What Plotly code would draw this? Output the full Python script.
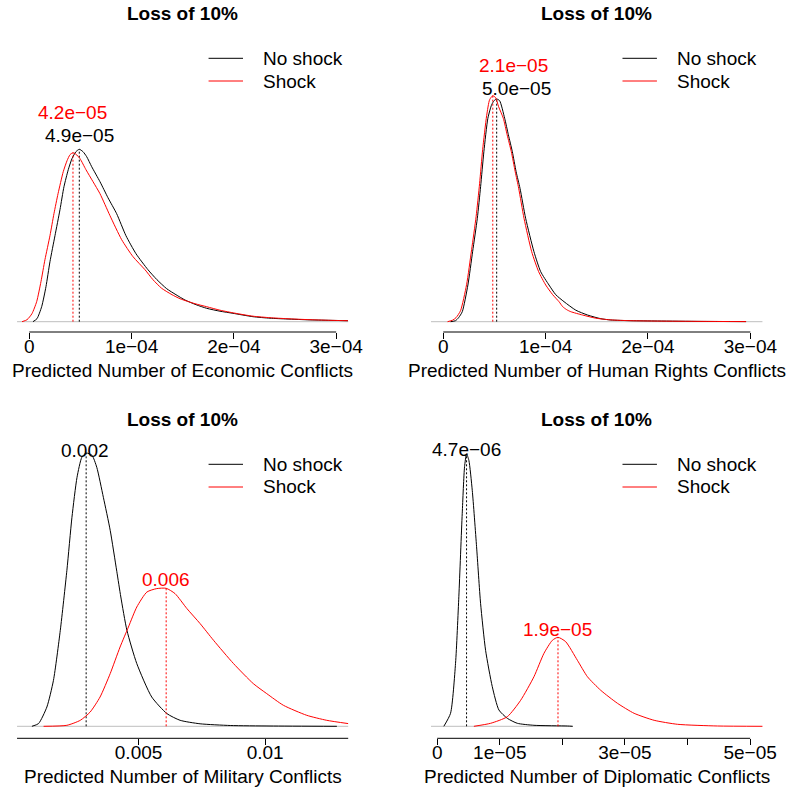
import plotly.graph_objects as go

# ---------------- data ----------------
# Economic conflicts
econ_x_noshock = [3.6e-6, 7.5e-6, 1.21e-5, 1.63e-5, 2.02e-5, 2.51e-5, 3.00e-5, 3.39e-5, 3.81e-5, 4.17e-5,
                  4.56e-5, 4.89e-5, 5.25e-5, 5.61e-5, 6.10e-5, 6.91e-5, 7.69e-5, 8.54e-5, 9.45e-5, 1.043e-4,
                  1.160e-4, 1.248e-4, 1.343e-4, 1.434e-4, 1.522e-4, 1.630e-4, 1.734e-4, 1.864e-4, 1.991e-4,
                  2.187e-4, 2.353e-4, 2.519e-4, 2.744e-4, 2.969e-4, 3.115e-4]
econ_d_noshock = [0, 3, 15, 35, 60, 86, 112, 135, 152, 163,
                  170, 172.4, 170, 165, 155, 140, 124, 108, 86, 68,
                  52, 42, 33, 27, 21.7, 17, 13.4, 10.5, 8.4,
                  5, 3.5, 2.7, 1.8, 1.3, 1]
econ_x_shock = [-7.1e-6, -2.2e-6, 2.6e-6, 7.2e-6, 1.14e-5, 1.53e-5, 2.02e-5, 2.41e-5, 2.81e-5, 3.32e-5,
                3.69e-5, 3.98e-5, 4.27e-5, 4.56e-5, 4.96e-5, 5.54e-5, 6.23e-5, 6.91e-5, 7.89e-5, 9.03e-5,
                1.014e-4, 1.131e-4, 1.209e-4, 1.294e-4, 1.395e-4, 1.473e-4, 1.620e-4, 1.734e-4, 1.864e-4,
                2.011e-4, 2.187e-4, 2.353e-4, 2.519e-4, 2.744e-4, 2.969e-4, 3.115e-4]
econ_d_shock = [0, 2, 8, 20, 40, 62, 86, 108, 128, 150,
                161, 167, 169, 167.5, 163, 152, 140, 128, 106, 82,
                65, 52, 42, 33.4, 27, 23, 18, 15, 11.5,
                8.5, 5.5, 4, 3, 2, 1.3, 1]
econ_mode_labels = ["4.9e\u221205", "4.2e\u221205"]
econ_ticks = [0, 1e-4, 2e-4, 3e-4]
econ_ticklabels = ["0", "1e\u221204", "2e\u221204", "3e\u221204"]

# Human rights conflicts
hr_x_noshock = [7.1e-6, 1.20e-5, 1.50e-5, 1.86e-5, 2.41e-5, 2.87e-5, 3.33e-5, 3.65e-5, 3.97e-5, 4.36e-5,
                4.73e-5, 4.97e-5, 5.22e-5, 5.51e-5, 6.00e-5, 6.36e-5, 6.75e-5, 7.12e-5, 7.50e-5, 8.05e-5,
                8.86e-5, 9.52e-5, 1.033e-4, 1.099e-4, 1.180e-4, 1.295e-4, 1.409e-4, 1.539e-4, 1.637e-4,
                1.833e-4, 2.094e-4, 2.518e-4, 2.958e-4]
hr_d_noshock = [0, 1, 4, 10, 36.7, 70, 103.4, 135, 170, 203.4,
                217, 221, 222.7, 221, 203.4, 187, 170, 150, 133.4, 103.4,
                70, 50, 36.7, 27, 20, 11.5, 6.7, 3, 1.7,
                1, 0.7, 0.3, 0.1]
hr_x_shock = [4.2e-6, 9.1e-6, 1.25e-5, 1.69e-5, 2.28e-5, 2.77e-5, 3.21e-5, 3.55e-5, 3.85e-5, 4.24e-5,
              4.53e-5, 4.84e-5, 5.12e-5, 5.41e-5, 5.87e-5, 6.24e-5, 6.65e-5, 7.03e-5, 7.37e-5, 7.89e-5,
              8.64e-5, 9.32e-5, 1.001e-4, 1.069e-4, 1.131e-4, 1.167e-4, 1.206e-4, 1.246e-4, 1.360e-4,
              1.490e-4, 1.637e-4, 1.833e-4, 2.094e-4, 2.518e-4, 2.958e-4]
hr_d_shock = [0, 1.5, 4, 11, 37, 72, 105, 138, 172, 206,
              222, 226, 224, 215, 203.4, 187, 170, 150, 133.4, 103.4,
              70, 50, 36.7, 27, 20, 15, 12, 10, 6.7,
              3.5, 1.8, 1, 0.6, 0.3, 0.1]
hr_mode_labels = ["5.0e\u221205", "2.1e\u221205"]
hr_ticks = [0, 1e-4, 2e-4, 3e-4]
hr_ticklabels = ["0", "1e\u221204", "2e\u221204", "3e\u221204"]

# Military conflicts
mil_x_noshock = [0.000789, 0.00105, 0.00138, 0.00164, 0.00191, 0.00217, 0.00237, 0.00257, 0.00276, 0.00293,
                 0.00316, 0.00335, 0.00361, 0.00388, 0.00414, 0.00430, 0.00454, 0.00493, 0.00552, 0.00612,
                 0.00664, 0.00743, 0.00862, 0.01019, 0.01283]
mil_d_noshock = [0, 2.7, 19.3, 46, 96, 156, 209, 249, 269, 273.3,
                 271, 259, 229, 196, 155, 129.3, 96, 62.7, 29.3, 12.7,
                 6, 2.5, 0.8, 0.3, 0]
mil_x_shock = [0.00125, 0.00217, 0.00270, 0.00309, 0.00348, 0.00388, 0.00427, 0.00460, 0.00493, 0.00533,
               0.00572, 0.00609, 0.00644, 0.00691, 0.00743, 0.00796, 0.00875, 0.00953, 0.01006, 0.01072,
               0.01164, 0.01243, 0.01328]
mil_d_shock = [0, 1, 6, 14.3, 29.3, 52.7, 79.3, 99.3, 119.3, 134.3,
               137.7, 138, 132.7, 117.7, 102.7, 86, 62.7, 42.7, 32.7, 21,
               11, 6, 2.7]
mil_mode_labels = ["0.002", "0.006"]
mil_ticks = [0, 0.005, 0.01, 0.015]
mil_ticklabels = ["0", "0.005", "0.01", "0.015"]

# Diplomatic conflicts
dip_x_noshock = [1.06e-6, 2.13e-6, 2.93e-6, 3.46e-6, 4.00e-6, 4.37e-6, 4.69e-6, 5.06e-6, 5.60e-6, 6.29e-6,
                 6.93e-6, 7.73e-6, 8.80e-6, 9.86e-6, 1.120e-5, 1.280e-5, 1.546e-5, 2.080e-5, 2.165e-5]
dip_d_noshock = [0, 13, 63, 130, 213, 259.6, 272.3, 266, 236, 179.6,
                 123, 76, 39.6, 16.3, 8, 3, 1, 0.3, 0]
dip_x_shock = [5.86e-6, 8.53e-6, 1.120e-5, 1.333e-5, 1.546e-5, 1.706e-5, 1.840e-5, 1.930e-5, 2.053e-5, 2.240e-5,
               2.400e-5, 2.613e-5, 2.880e-5, 3.146e-5, 3.466e-5, 3.840e-5, 4.480e-5, 5.200e-5]
dip_d_shock = [0, 3, 9.6, 26, 49.6, 73, 86, 89, 84.6, 66,
               49.6, 36, 23, 13, 6, 2, 0.3, 0]
dip_mode_labels = ["4.7e\u221206", "1.9e\u221205"]
dip_ticks = [0, 1e-5, 2e-5, 3e-5, 4e-5, 5e-5]
dip_ticklabels = ["0", "1e\u221205", "", "3e\u221205", "", "5e\u221205"]

series_names = ["No shock", "Shock"]
panel_title = "Loss of 10%"
x_titles = ["Predicted Number of Economic Conflicts", "Predicted Number of Human Rights Conflicts",
            "Predicted Number of Military Conflicts", "Predicted Number of Diplomatic Conflicts"]

# ---------------- layout / styling ----------------
REF = 790                 # reference picture size (px)
W, H = 806, 790           # rendered figure size
FONT = "Liberation Sans, Arial, Helvetica, sans-serif"
FS = 19
COLORS = ["#000000", "#FF0000"]
GRAY = "#BEBEBE"


def fx(px):
    return px / REF


def fy(py):
    return 1 - py / REF


cols = [(17, 348), (430.4, 761.7)]
# (title y px, plot top px, axis/bottom px, baseline offset px)
rows = [(13.3, 20, 332, 10.3), (419.3, 420, 738.3, 12.0)]

panels = [
    dict(r=0, c=0, xr=[-1.2e-5, 3.12e-4], ticks=econ_ticks, tt=econ_ticklabels,
         xs=[econ_x_noshock, econ_x_shock], ds=[econ_d_noshock, econ_d_shock], labels=econ_mode_labels,
         lab_pos=[(4.89e-5, 186), (4.22e-5, 209)], zero_full=True),
    dict(r=0, c=1, xr=[-1.2e-5, 3.12e-4], ticks=hr_ticks, tt=hr_ticklabels,
         xs=[hr_x_noshock, hr_x_shock], ds=[hr_d_noshock, hr_d_shock], labels=hr_mode_labels,
         lab_pos=[(7.17e-5, 233.7), (6.88e-5, 256.7)], zero_full=True),
    dict(r=1, c=0, xr=[0.000201, 0.013287], ticks=mil_ticks, tt=mil_ticklabels,
         xs=[mil_x_noshock, mil_x_shock], ds=[mil_d_noshock, mil_d_shock], labels=mil_mode_labels,
         lab_pos=[(0.00289, 276), (0.00609, 147)], zero_full=True),
    dict(r=1, c=1, xr=[-1.0e-6, 5.2e-5], ticks=dip_ticks, tt=dip_ticklabels,
         xs=[dip_x_noshock, dip_x_shock], ds=[dip_d_noshock, dip_d_shock], labels=dip_mode_labels,
         lab_pos=[(4.64e-6, 277), (1.93e-5, 97)], zero_full=False),
]

fig = go.Figure()
layout = dict(width=W, height=H, autosize=False, margin=dict(l=0, r=0, t=0, b=0, pad=0),
              paper_bgcolor="white", plot_bgcolor="white", showlegend=False,
              font=dict(family=FONT, size=FS, color="black"))
annotations = []
shapes = []

for i, p in enumerate(panels):
    n = "" if i == 0 else str(i + 1)
    xa, ya = "x" + n, "y" + n
    c0, c1 = cols[p["c"]]
    ttl, top, bot, off = rows[p["r"]]
    yr = [-off, (bot - top) - off]
    layout["xaxis" + n] = dict(domain=[fx(c0), fx(c1)], range=p["xr"], anchor=ya,
                               tickmode="array", tickvals=p["ticks"], ticktext=p["tt"],
                               ticks="outside", ticklen=6, tickwidth=1, tickcolor="black",
                               ticklabelstandoff=-9,
                               showgrid=False, zeroline=False, showline=False,
                               tickfont=dict(family=FONT, size=FS, color="black"))
    layout["yaxis" + n] = dict(domain=[fy(bot), fy(top)], range=yr, anchor=xa, visible=False)

    # zero line
    z_end = p["xr"][1] if p["zero_full"] else p["xs"][0][-1]
    fig.add_trace(go.Scatter(x=[p["xr"][0], z_end], y=[0, 0], mode="lines", xaxis=xa, yaxis=ya,
                             line=dict(color=GRAY, width=1), hoverinfo="skip"))
    # densities + mode lines
    for k in range(2):
        xs, ds = p["xs"][k], p["ds"][k]
        fig.add_trace(go.Scatter(x=xs, y=ds, mode="lines", name=series_names[k], xaxis=xa, yaxis=ya,
                                 line=dict(color=COLORS[k], width=1, shape="spline", smoothing=0.6)))
        j = ds.index(max(ds))
        fig.add_trace(go.Scatter(x=[xs[j], xs[j]], y=[0, ds[j]], mode="lines", xaxis=xa, yaxis=ya,
                                 line=dict(color=COLORS[k], width=1, dash="2px,2px"), hoverinfo="skip"))
        lx, ly = p["lab_pos"][k]
        annotations.append(dict(x=lx, y=ly, xref=xa, yref=ya, text=p["labels"][k], showarrow=False,
                                xanchor="center", yanchor="middle",
                                font=dict(family=FONT, size=FS, color=COLORS[k])))

    # axis line from first to last tick (clipped to the plotting range)
    a0 = max(min(p["ticks"]), p["xr"][0])
    a1 = min(max(p["ticks"]), p["xr"][1])
    shapes.append(dict(type="line", xref=xa, yref="paper", x0=a0, x1=a1, y0=fy(bot), y1=fy(bot),
                       line=dict(color="black", width=1)))

    # title, x label
    cx = (c0 + c1) / 2
    annotations.append(dict(x=fx(cx), y=fy(ttl), xref="paper", yref="paper",
                            text="<b>" + panel_title + "</b>", showarrow=False,
                            xanchor="center", yanchor="middle",
                            font=dict(family=FONT, size=19, color="black")))
    annotations.append(dict(x=fx(cx), y=fy(bot + 38), xref="paper", yref="paper",
                            text=x_titles[i], showarrow=False, xanchor="center", yanchor="middle",
                            font=dict(family=FONT, size=FS, color="black")))

    # legend (top right)
    for k in range(2):
        ly = ttl + 45 + 22.7 * k
        shapes.append(dict(type="line", xref="paper", yref="paper",
                           x0=fx(c0 + 191.3), x1=fx(c0 + 225.7), y0=fy(ly), y1=fy(ly),
                           line=dict(color=COLORS[k], width=1)))
        annotations.append(dict(x=fx(c0 + 243.7), y=fy(ly), xref="paper", yref="paper",
                                text=series_names[k], showarrow=False, xanchor="left", yanchor="middle",
                                font=dict(family=FONT, size=FS, color="black")))

layout["annotations"] = annotations
layout["shapes"] = shapes
fig.update_layout(**layout)
fig.write_html("out.html", config={"displayModeBar": False, "responsive": False},
               post_script="document.body.style.margin='0px';document.body.style.overflow='hidden';")
